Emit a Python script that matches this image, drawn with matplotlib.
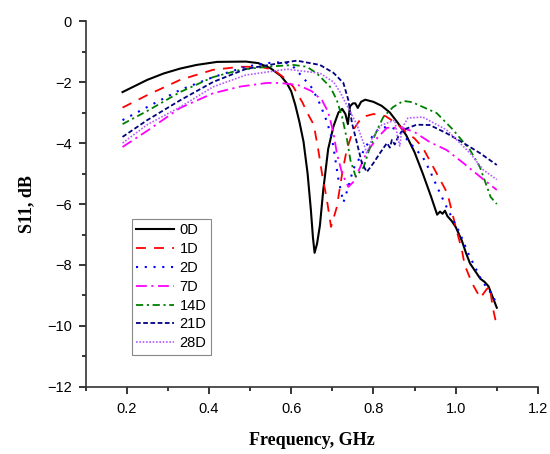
import matplotlib

matplotlib.use("Agg")
import matplotlib.pyplot as plt

# S11 vs frequency (GHz, dB)
F_0D = [0.19, 0.25, 0.29, 0.33, 0.37, 0.42, 0.49, 0.52, 0.55, 0.575, 0.59, 0.60, 0.61, 0.62,
        0.63, 0.64, 0.648, 0.653, 0.657, 0.663, 0.67, 0.678, 0.69, 0.703, 0.715, 0.724, 0.732,
        0.738, 0.743, 0.75, 0.756, 0.762, 0.77, 0.78, 0.80, 0.82, 0.84, 0.86, 0.88, 0.90,
        0.92, 0.94, 0.955, 0.962, 0.968, 0.974, 0.98, 0.99, 1.0, 1.015, 1.025, 1.035, 1.05,
        1.06, 1.07, 1.08, 1.09, 1.1]
S_0D = [-2.33, -1.93, -1.72, -1.56, -1.44, -1.34, -1.33, -1.38, -1.55, -1.8, -2.05, -2.3,
        -2.75, -3.3, -3.95, -5.0, -6.2, -7.1, -7.6, -7.3, -6.7, -5.55, -4.2, -3.45, -3.0,
        -2.88, -3.05, -3.38, -2.8, -2.7, -2.7, -2.85, -2.65, -2.58, -2.65, -2.78, -3.0,
        -3.35, -3.75, -4.3, -5.0, -5.75, -6.35, -6.25, -6.32, -6.22, -6.4, -6.55, -6.75,
        -7.2, -7.6, -7.95, -8.25, -8.45, -8.55, -8.7, -9.05, -9.4]

F_1D = [0.19, 0.25, 0.33, 0.41, 0.476, 0.525, 0.557, 0.581, 0.605, 0.627, 0.642, 0.655,
        0.666, 0.675, 0.687, 0.697, 0.711, 0.724, 0.735, 0.751, 0.772, 0.80, 0.83, 0.86,
        0.88, 0.9, 0.92, 0.946, 0.98, 0.99, 1.002, 1.015, 1.022, 1.04, 1.06, 1.075, 1.083,
        1.09, 1.1]
S_1D = [-2.84, -2.43, -1.93, -1.6, -1.5, -1.5, -1.6, -1.84, -2.15, -2.66, -3.08, -3.4,
        -4.23, -5.0, -5.87, -6.75, -6.1, -5.0, -4.23, -3.57, -3.15, -3.05, -3.12, -3.4,
        -3.65, -3.85, -4.15, -4.8, -5.65, -6.2, -6.85, -7.5, -8.0, -8.6, -9.08, -8.8, -8.7,
        -9.38, -10.0]

F_2D = [0.19, 0.25, 0.33, 0.41, 0.49, 0.54, 0.58, 0.60, 0.622, 0.651, 0.67, 0.687, 0.7,
        0.707, 0.715, 0.727, 0.74, 0.751, 0.768, 0.784, 0.804, 0.82, 0.845, 0.864, 0.889,
        0.92, 0.937, 0.957, 0.978, 1.01, 1.03, 1.063, 1.09, 1.1]
S_2D = [-3.25, -2.82, -2.26, -1.84, -1.5, -1.38, -1.35, -1.42, -1.75, -2.2, -2.72, -3.3, -3.9,
        -4.5, -5.2, -5.95, -5.4, -4.85, -4.46, -4.07, -3.64, -3.48, -3.5, -3.6, -4.0,
        -4.46, -4.9, -5.5, -6.1, -6.95, -7.6, -8.5, -9.0, -9.3]

F_7D = [0.19, 0.25, 0.33, 0.41, 0.476, 0.541, 0.573, 0.617, 0.65, 0.675, 0.69, 0.703, 0.711,
        0.724, 0.739, 0.751, 0.768, 0.784, 0.809, 0.833, 0.87, 0.9, 0.937, 0.978, 1.019,
        1.059, 1.1]
S_7D = [-4.13, -3.6, -2.85, -2.37, -2.15, -2.03, -2.03, -2.1, -2.3, -2.6, -2.98, -3.67, -4.33,
        -5.0, -5.44, -5.28, -4.79, -4.3, -3.84, -3.5, -3.5, -3.64, -3.97, -4.23, -4.66,
        -5.1, -5.54]

F_14D = [0.19, 0.25, 0.33, 0.41, 0.476, 0.54, 0.606, 0.638, 0.662, 0.695, 0.711, 0.724, 0.736,
         0.744, 0.757, 0.776, 0.792, 0.809, 0.824, 0.848, 0.873, 0.894, 0.954, 0.994, 1.035,
         1.059, 1.085, 1.1]
S_14D = [-3.38, -2.95, -2.33, -1.84, -1.6, -1.5, -1.44, -1.5, -1.71, -2.16, -2.59, -3.15, -3.9,
         -4.56, -5.1, -4.8, -4.13, -3.57, -3.15, -2.82, -2.62, -2.66, -3.02, -3.57, -4.23,
         -4.79, -5.77, -6.0]

F_21D = [0.19, 0.25, 0.33, 0.41, 0.49, 0.573, 0.614, 0.67, 0.703, 0.727, 0.739, 0.748, 0.76,
         0.772, 0.784, 0.80, 0.816, 0.833, 0.84, 0.845, 0.852, 0.86, 0.872, 0.905, 0.937,
         0.978, 1.019, 1.059, 1.1]
S_21D = [-3.8, -3.25, -2.6, -2.0, -1.57, -1.38, -1.3, -1.44, -1.7, -2.03, -2.59, -3.35, -4.0,
         -4.66, -4.95, -4.66, -4.33, -4.0, -4.15, -3.9, -4.05, -3.8, -3.57, -3.4, -3.41,
         -3.68, -4.0, -4.33, -4.72]

F_28D = [0.19, 0.25, 0.33, 0.41, 0.49, 0.59, 0.67, 0.703, 0.719, 0.744, 0.76, 0.776, 0.784,
         0.797, 0.82, 0.852, 0.858, 0.864, 0.87, 0.884, 0.92, 0.978, 1.035, 1.067, 1.1]
S_28D = [-4.0, -3.4, -2.82, -2.16, -1.77, -1.58, -1.71, -2.0, -2.33, -2.99, -3.4, -4.0, -4.35,
         -3.84, -3.41, -3.25, -3.75, -4.1, -3.5, -3.18, -3.15, -3.57, -4.33, -4.88, -5.2]

LABELS = ["0D", "1D", "2D", "7D", "14D", "21D", "28D"]
FREQS = [F_0D, F_1D, F_2D, F_7D, F_14D, F_21D, F_28D]
S11 = [S_0D, S_1D, S_2D, S_7D, S_14D, S_21D, S_28D]

STYLES = {
    "0D": ("#000000", "-", 1.5),
    "1D": ("#FF0000", (0, (5.5, 4.5)), 1.3),
    "2D": ("#0000FF", (0, (1, 3.2)), 1.5),
    "7D": ("#FF00FF", (0, (6, 2.5, 1.2, 2.5)), 1.3),
    "14D": ("#008000", (0, (4, 2, 1.2, 2)), 1.3),
    "21D": ("#000080", (0, (2.6, 1.4)), 1.3),
    "28D": ("#B45CFF", (0, (1, 1)), 1.2),
}


def _setup() -> None:
    plt.rcParams.update({
        "font.family": ["Liberation Sans", "DejaVu Sans"],
        "font.size": 10,
        "axes.linewidth": 1.2,
        "axes.spines.top": False,
        "axes.spines.right": False,
        "xtick.direction": "out",
        "ytick.direction": "out",
        "xtick.major.size": 5,
        "ytick.major.size": 5,
        "xtick.minor.size": 2.8,
        "ytick.minor.size": 2.8,
        "xtick.major.width": 1.1,
        "ytick.major.width": 1.1,
        "xtick.minor.width": 1.1,
        "ytick.minor.width": 1.1,
        "xtick.major.pad": 6,
        "ytick.major.pad": 5,
        "xtick.labelsize": 10.5,
        "ytick.labelsize": 10.5,
    })


def main() -> None:
    _setup()
    fig = plt.figure(figsize=(5.5, 4.54), dpi=100)
    ax = fig.add_axes([0.1555, 0.1476, 0.8225, 0.8061])

    for label, f, s in zip(LABELS, FREQS, S11):
        color, ls, lw = STYLES[label]
        ax.plot(f, s, color=color, linestyle=ls, linewidth=lw, label=label)

    ax.set_xlim(0.1, 1.2)
    ax.set_ylim(-12, 0)
    ax.set_xticks([0.2, 0.4, 0.6, 0.8, 1.0, 1.2])
    ax.set_xticks([0.1, 0.3, 0.5, 0.7, 0.9, 1.1], minor=True)
    ax.set_yticks([0, -2, -4, -6, -8, -10, -12])
    ax.set_yticks([-1, -3, -5, -7, -9, -11], minor=True)
    ax.spines["left"].set_color("#333333")
    ax.spines["bottom"].set_color("#333333")

    serif = {"family": ["Liberation Serif", "DejaVu Serif"], "weight": "bold", "size": 13}
    ax.set_xlabel("Frequency, GHz", fontdict=serif, labelpad=11)
    ax.set_ylabel("S11, dB", fontdict=serif, labelpad=8)

    leg = ax.legend(
        loc="upper left",
        bbox_to_anchor=(0.103, 0.459),
        borderaxespad=0,
        fontsize=10.5,
        handlelength=2.6,
        handletextpad=0.35,
        labelspacing=0.33,
        borderpad=0.3,
        fancybox=False,
        framealpha=1,
        edgecolor="#888888",
    )
    leg.get_frame().set_linewidth(0.8)

    fig.savefig("out.png", dpi=100)
    plt.close(fig)


if __name__ == "__main__":
    main()
